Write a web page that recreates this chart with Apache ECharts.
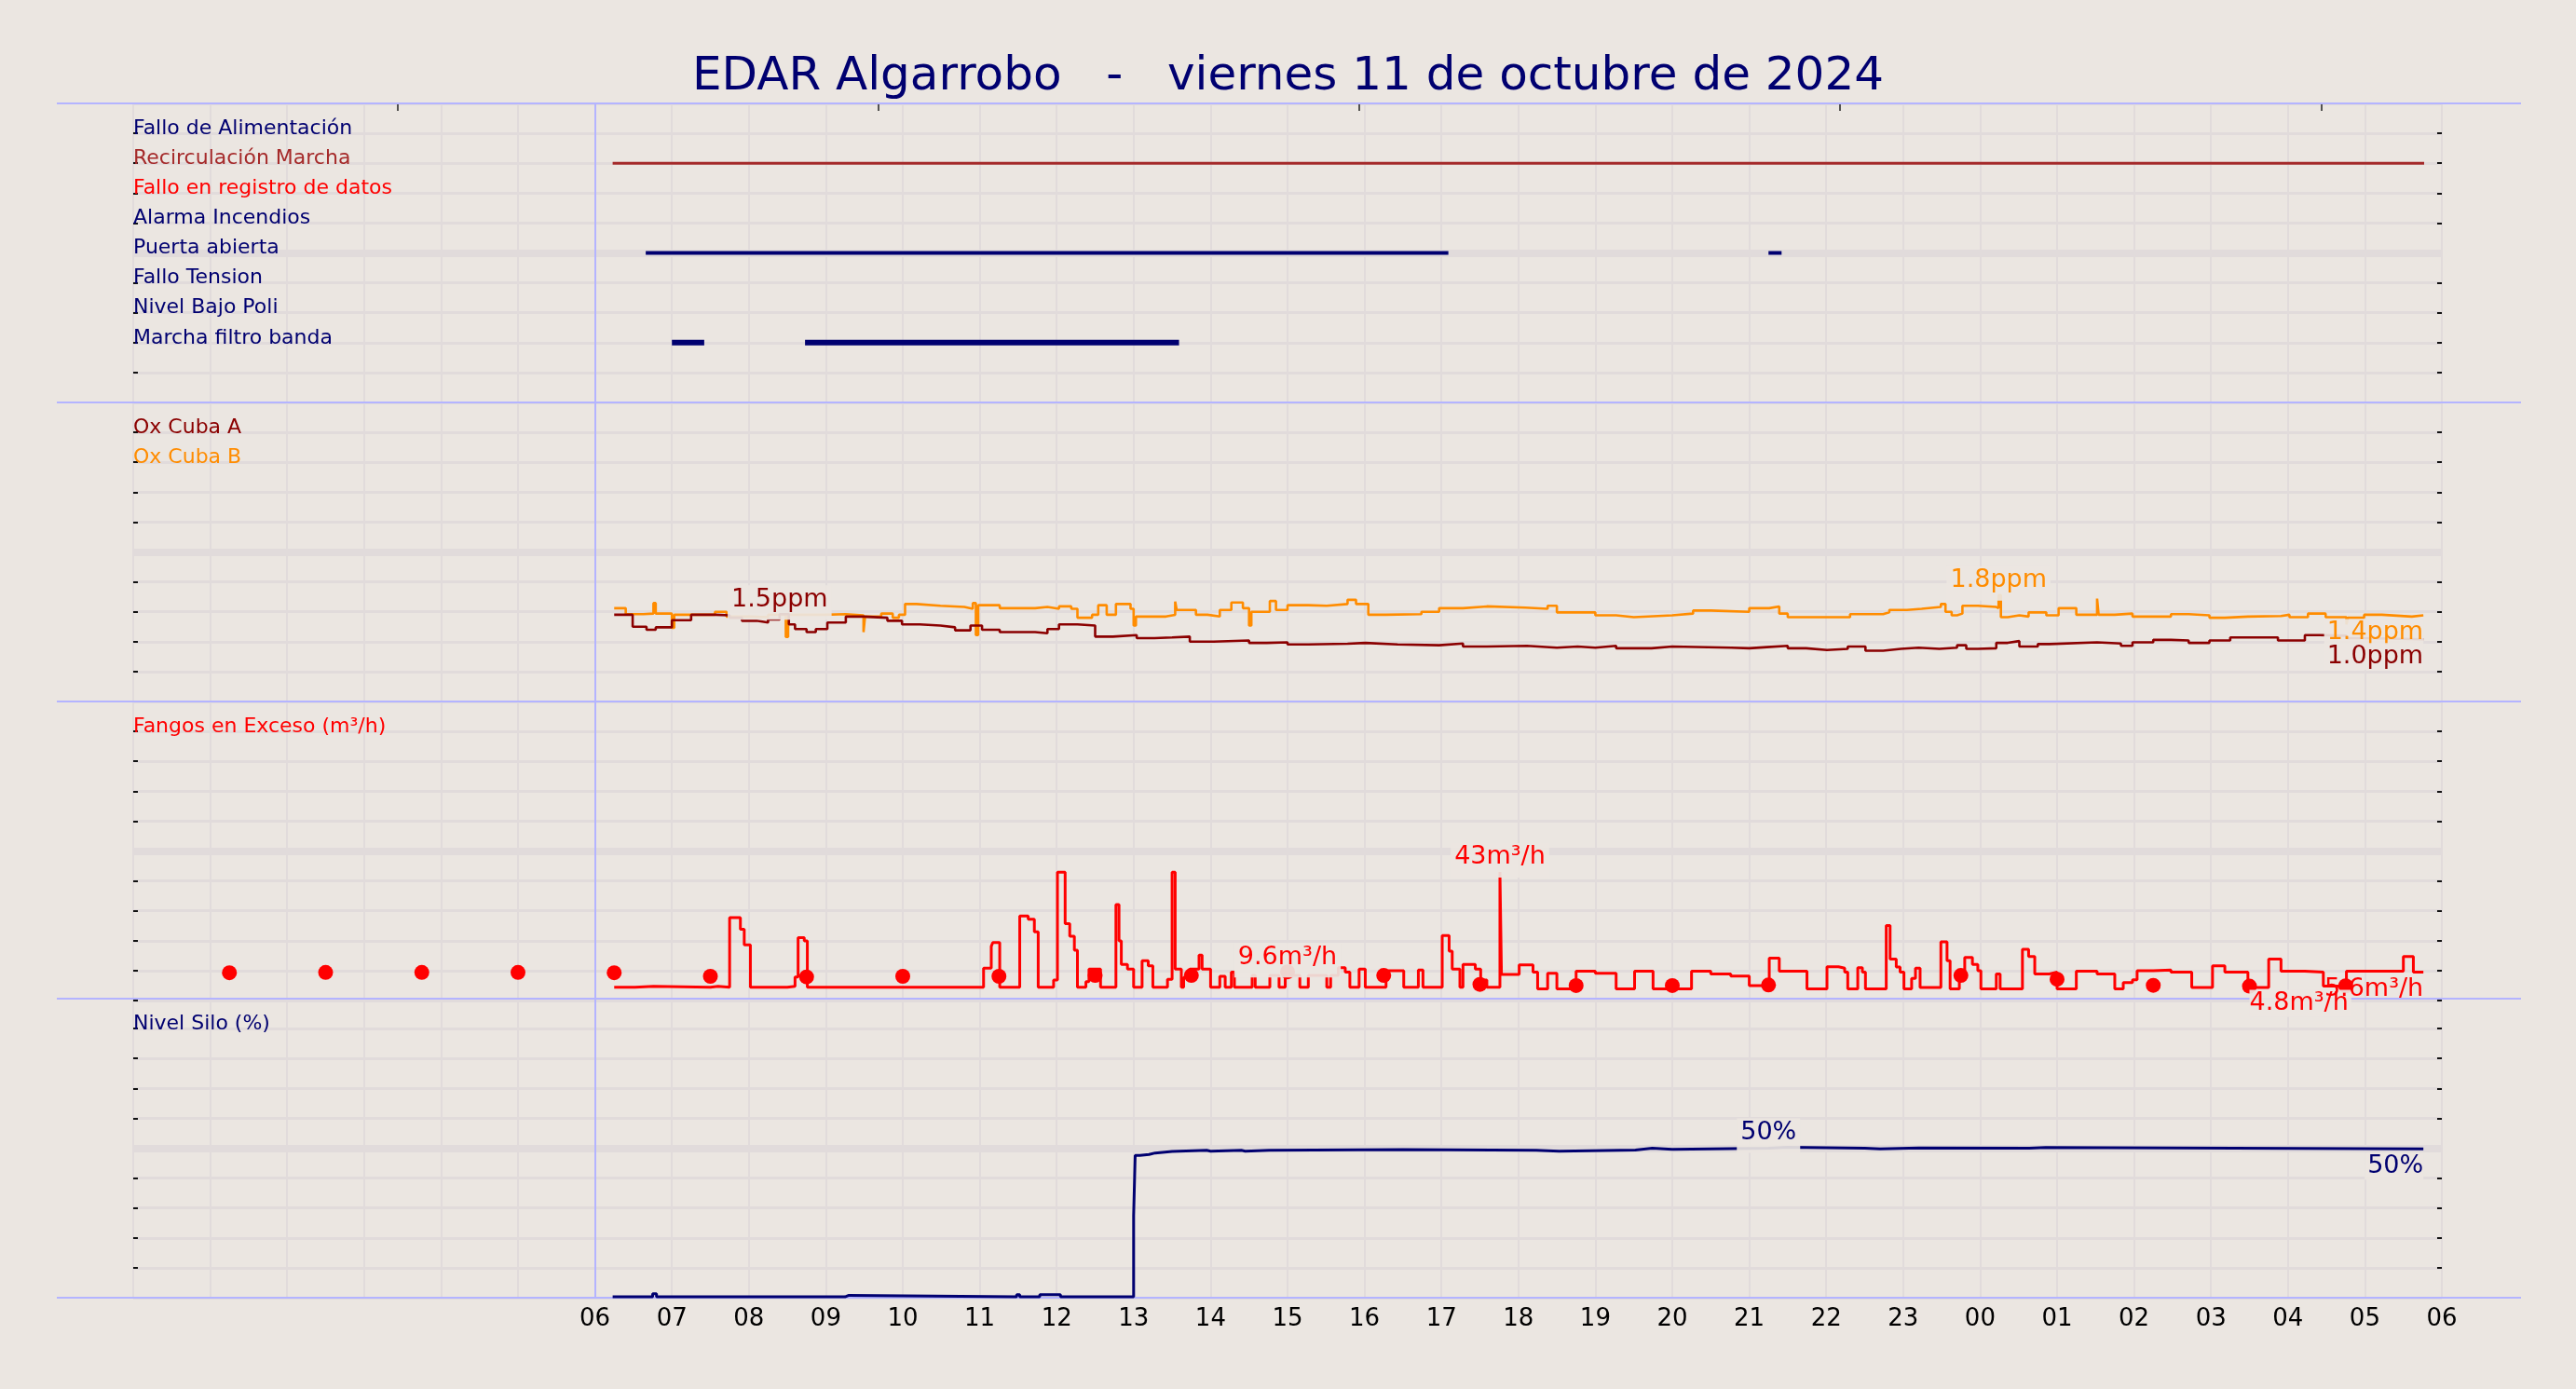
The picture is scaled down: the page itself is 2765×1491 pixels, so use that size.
<!DOCTYPE html>
<html style="height: 100%">
<head>
    <meta charset="utf-8">
    <style>
        body{margin: 0; background: #ebe6e1;}
        #container{width: 2765px; height: 1491px;}
    </style>
</head>
<body>
<div id="container"></div>

<script src="https://cdn.jsdelivr.net/npm/echarts@6/dist/echarts.min.js"></script>
<script type="text/javascript">

    // hours counted from 00:00 of the day, axis runs 0..30
    var xTickLabels = ['', '', '', '', '', '', '06', '07', '08', '09', '10', '11', '12', '13', '14', '15',
        '16', '17', '18', '19', '20', '21', '22', '23', '00', '01', '02', '03', '04', '05', '06'];
    var topTicks = [3.43, 9.68, 15.93, 22.18, 28.43];

    // panel 1 : states
    var statusNames = ['Fallo de Alimentación', 'Recirculación Marcha', 'Fallo en registro de datos', 'Alarma Incendios',
        'Puerta abierta', 'Fallo Tension', 'Nivel Bajo Poli', 'Marcha filtro banda'];
    var statusRows = [9, 8, 7, 6, 5, 4, 3, 2];
    var recircOn = [[6.23, 29.77]];
    var puertaOn = [[6.66, 17.09], [21.25, 21.42]];
    var filtroOn = [[7.0, 7.42], [8.73, 13.59]];

    // panel 2 : oxygen (ppm)
    var oxA = [[6.25, 1.45], [6.49, 1.25], [6.67, 1.20], [6.79, 1.24], [7.00, 1.36], [7.25, 1.45], [7.56, 1.44],
        [7.75, 1.40], [7.91, 1.35], [8.10, 1.32], [8.25, 1.37], [8.40, 1.46], [8.52, 1.29], [8.60, 1.21],
        [8.75, 1.16], [8.87, 1.21], [9.02, 1.32], [9.26, 1.42], [9.49, 1.40], [9.80, 1.35], [9.99, 1.29],
        [10.22, 1.27], [10.49, 1.24], [10.68, 1.19], [10.88, 1.27], [11.03, 1.20], [11.26, 1.16], [11.72, 1.14],
        [11.88, 1.21], [12.03, 1.29], [12.27, 1.27], [12.50, 1.085], [12.73, 1.11], [13.04, 1.06], [13.27, 1.07],
        [13.50, 1.085], [13.73, 1.00], [14.04, 1.02], [14.50, 0.98], [14.73, 0.99], [15.00, 0.955], [15.27, 0.965],
        [15.78, 0.98], [16.01, 0.955], [16.43, 0.94], [16.97, 0.97], [17.28, 0.92], [17.59, 0.93], [18.11, 0.90],
        [18.50, 0.92], [18.77, 0.90], [19.00, 0.93], [19.27, 0.89], [19.73, 0.92], [20.00, 0.90], [20.77, 0.89],
        [21.00, 0.91], [21.23, 0.93], [21.50, 0.89], [21.74, 0.86], [22.01, 0.88], [22.28, 0.92], [22.51, 0.85],
        [22.74, 0.88], [22.97, 0.90], [23.20, 0.88], [23.47, 0.90], [23.70, 0.94], [23.82, 0.88], [23.97, 0.89],
        [24.21, 0.98], [24.36, 1.01], [24.51, 0.92], [24.75, 0.96], [24.90, 0.99], [25.52, 0.97], [25.83, 0.93],
        [25.98, 0.99], [26.25, 1.03], [26.48, 1.02], [26.71, 0.98], [26.98, 1.02], [27.25, 1.07], [27.87, 1.02],
        [28.22, 1.11], [28.41, 1.10], [28.76, 1.06], [28.99, 1.04], [29.76, 1.04]];
    var oxB = [[6.25, 1.56], [6.40, 1.46], [6.63, 1.47], [6.76, 1.645], [6.79, 1.47], [7.00, 1.23], [7.03, 1.45],
        [7.56, 1.50], [7.71, 1.42], [8.02, 1.41], [8.25, 1.45], [8.48, 1.08], [8.51, 1.45], [8.99, 1.46],
        [9.26, 1.44], [9.49, 1.16], [9.51, 1.42], [9.72, 1.47], [9.87, 1.40], [9.95, 1.45], [10.03, 1.63],
        [10.18, 1.60], [10.49, 1.58], [10.80, 1.55], [10.91, 1.645], [10.95, 1.11], [10.98, 1.61], [11.26, 1.56],
        [11.72, 1.58], [11.88, 1.55], [12.03, 1.59], [12.19, 1.55], [12.27, 1.40], [12.46, 1.45], [12.54, 1.61],
        [12.65, 1.45], [12.77, 1.63], [12.96, 1.55], [13.00, 1.27], [13.03, 1.42], [13.11, 1.42], [13.42, 1.45],
        [13.54, 1.67], [13.56, 1.53], [13.81, 1.45], [13.96, 1.42], [14.12, 1.53], [14.27, 1.655], [14.42, 1.56],
        [14.50, 1.27], [14.53, 1.50], [14.77, 1.68], [14.85, 1.53], [15.00, 1.61], [15.27, 1.60], [15.51, 1.63],
        [15.78, 1.70], [15.89, 1.63], [16.05, 1.45], [16.28, 1.46], [16.74, 1.50], [16.97, 1.56], [17.28, 1.59],
        [17.59, 1.57], [18.09, 1.55], [18.38, 1.60], [18.50, 1.49], [19.00, 1.44], [19.27, 1.41], [19.50, 1.44],
        [20.00, 1.47], [20.27, 1.52], [20.50, 1.50], [21.00, 1.56], [21.26, 1.59], [21.39, 1.47], [21.50, 1.41],
        [22.31, 1.46], [22.74, 1.49], [22.82, 1.53], [23.05, 1.55], [23.24, 1.58], [23.49, 1.63], [23.55, 1.50],
        [23.63, 1.44], [23.70, 1.47], [23.77, 1.60], [23.97, 1.58], [24.21, 1.56], [24.24, 1.78], [24.27, 1.41],
        [24.36, 1.44], [24.51, 1.42], [24.63, 1.49], [24.86, 1.44], [25.02, 1.56], [25.25, 1.45], [25.52, 1.72],
        [25.54, 1.45], [25.75, 1.47], [25.98, 1.42], [26.48, 1.46], [26.71, 1.44], [26.98, 1.40], [27.18, 1.42],
        [27.48, 1.43], [27.91, 1.45], [28.02, 1.41], [28.26, 1.47], [28.49, 1.41], [28.76, 1.29], [28.78, 1.40],
        [28.99, 1.45], [29.22, 1.42], [29.61, 1.44], [29.76, 1.44]];

    // panel 3 : excess sludge (m3/h)
    var fangos = [[6.25, 4.45], [6.52, 4.75], [6.76, 4.45], [7.50, 4.75], [7.60, 4.45], [7.75, 27.7], [7.89, 23.8],
        [7.94, 18.6], [8.02, 4.45], [8.50, 4.75], [8.60, 7.9], [8.64, 21.0], [8.72, 19.9], [8.76, 4.45],
        [11.05, 10.8], [11.15, 18.1], [11.17, 19.4], [11.26, 4.45], [11.52, 28.3], [11.63, 27.2], [11.71, 23.0],
        [11.76, 4.45], [11.96, 6.85], [12.01, 42.9], [12.11, 25.7], [12.17, 21.5], [12.23, 16.8], [12.27, 4.45],
        [12.38, 6.3], [12.42, 10.5], [12.57, 4.45], [12.77, 32.1], [12.81, 19.9], [12.84, 12.1], [12.92, 10.5],
        [13.00, 4.45], [13.11, 13.3], [13.19, 11.6], [13.25, 4.45], [13.44, 7.1], [13.50, 42.9], [13.54, 10.5],
        [13.62, 4.45], [13.65, 7.7], [13.73, 10.5], [13.85, 15.2], [13.89, 10.5], [14.00, 4.45], [14.12, 8.1],
        [14.19, 4.45], [14.27, 9.5], [14.31, 4.45], [14.54, 8.4], [14.58, 4.45], [14.77, 8.4], [14.89, 4.45],
        [14.97, 8.4], [15.16, 4.45], [15.27, 8.4], [15.51, 4.45], [15.56, 8.4], [15.66, 11.0], [15.75, 9.5],
        [15.81, 4.45], [15.93, 10.5], [16.01, 4.45], [16.28, 10.0], [16.51, 4.45], [16.70, 10.2], [16.76, 4.45],
        [17.01, 21.7], [17.10, 16.5], [17.14, 10.5], [17.24, 4.45], [17.28, 12.1], [17.44, 10.5], [17.51, 6.85],
        [17.59, 4.45], [17.76, 43.0], [17.78, 8.7], [18.01, 11.9], [18.19, 9.5], [18.25, 3.9], [18.38, 9.1],
        [18.50, 3.9], [18.75, 9.8], [19.00, 9.1], [19.27, 3.9], [19.51, 9.8], [19.75, 3.9], [20.25, 9.8],
        [20.50, 8.9], [20.76, 8.2], [21.00, 5.0], [21.26, 14.2], [21.39, 9.8], [21.75, 3.9], [22.01, 11.3],
        [22.16, 10.8], [22.24, 9.5], [22.28, 3.9], [22.41, 11.0], [22.47, 9.5], [22.51, 3.9], [22.78, 25.1],
        [22.83, 13.9], [22.91, 11.2], [22.96, 9.5], [23.01, 3.9], [23.11, 7.4], [23.16, 10.8], [23.22, 4.4],
        [23.49, 19.6], [23.57, 13.3], [23.61, 3.9], [23.73, 7.1], [23.80, 14.4], [23.90, 12.1], [23.97, 10.0],
        [24.01, 3.9], [24.21, 8.9], [24.26, 3.9], [24.55, 17.1], [24.63, 14.7], [24.71, 8.9], [24.90, 9.5],
        [25.00, 3.9], [25.25, 9.8], [25.52, 8.9], [25.75, 3.9], [25.86, 6.0], [25.98, 6.9], [26.04, 10.0],
        [26.25, 10.2], [26.48, 9.5], [26.75, 4.4], [27.02, 11.6], [27.18, 9.5], [27.48, 4.4], [27.75, 13.9],
        [27.91, 9.8], [28.22, 9.5], [28.46, 4.8], [28.76, 9.8], [29.50, 14.7], [29.63, 9.5], [29.76, 9.5]];
    var fangosDots = [[1.25, 9.3], [2.5, 9.4], [3.75, 9.4], [5.0, 9.4], [6.25, 9.3], [7.5, 8.1], [8.75, 7.9],
        [10.0, 8.1], [11.25, 8.1], [12.5, 8.4], [13.75, 8.4], [15.0, 9.6], [16.25, 8.4], [17.5, 5.4], [18.75, 5.0],
        [20.0, 5.0], [21.25, 5.2], [23.75, 8.4], [25.0, 7.1], [26.25, 5.1], [27.5, 4.8], [28.75, 4.9]];
    var fangosEnd = [29.76, 5.6];

    // panel 4 : silo level (%)
    var silo = [[6.23, 0.3], [6.75, 1.3], [6.80, 0.3], [9.25, 0.8], [9.30, 0.3], [11.48, 1.0], [11.52, 0.3],
        [11.78, 1.0], [12.05, 0.3], [13.00, 27.4], [13.02, 47.6], [13.08, 47.9], [13.20, 48.4], [13.28, 48.9],
        [13.50, 49.3], [13.95, 49.0], [14.00, 49.3], [14.40, 49.0], [14.45, 49.3], [14.76, 49.5], [16.5, 49.3],
        [18.23, 49.0], [18.53, 49.4], [19.52, 50.0], [19.74, 49.6], [20.00, 50.0], [21.25, 50.3], [21.50, 50.0],
        [22.50, 49.8], [22.70, 50.1], [23.20, 50.0], [24.64, 50.2], [24.85, 49.8], [29.76, 49.8]];


    var BG = '#ebe6e1', GRIDC = '#e1dbdb', SEP = '#b4b4ff', NAVY = '#000070';
    var FONT = 'DejaVu Sans';
    var gridTop = [111, 432, 753, 1072];
    var gridH = 321;
    var panelMax = [10, 5, 100, 100];
    var panelStep = [1, 0.5, 10, 10];

    function segments(list, row) {
        var out = [];
        list.forEach(function (s, i) {
            if (i > 0) out.push([s[0], '-']);
            out.push([s[0], row], [s[1], row]);
        });
        return out;
    }
    function maxItem(arr) {
        var m = arr[0];
        arr.forEach(function (d) { if (d[1] > m[1]) m = d; });
        return m;
    }
    function minItem(arr) {
        var m = arr[0];
        arr.forEach(function (d) { if (d[1] < m[1]) m = d; });
        return m;
    }
    function lastItem(arr) { return arr[arr.length - 1]; }
    function fmtM3(v) { return (v >= 10 ? v.toFixed(0) : v.toFixed(1)) + 'm³/h'; }

    var labelBox = {
        fontFamily: FONT, fontSize: 27, backgroundColor: 'rgba(235,230,225,0.92)', padding: [1, 3, 1, 3]
    };
    function note(pt, text, color, where) {
        var lab = Object.assign({show: true, formatter: text, color: color}, labelBox);
        if (where === 'top') { lab.position = 'top'; lab.distance = -6; lab.padding = [2, 4, 8, 4]; }
        if (where === 'endBelow') { lab.position = 'bottom'; lab.align = 'right'; lab.distance = 4; lab.padding = [1, 0, 1, 3]; }
        if (where === 'belowLeft') { lab.position = 'bottom'; lab.align = 'left'; lab.distance = 4; lab.padding = [1, 3, 1, 0]; }
        if (where === 'endLeft') { lab.position = 'left'; lab.distance = 0; lab.offset = [0, 6]; lab.backgroundColor = 'transparent'; lab.padding = 0; }
        return {value: pt, label: lab};
    }
    function noteSeries(i, items) {
        return {
            type: 'scatter', xAxisIndex: i, yAxisIndex: 2 * i, symbolSize: 0, z: 10,
            silent: true, itemStyle: {opacity: 1}, data: items
        };
    }

    var grids = [], xAxes = [], yAxes = [], series = [];
    for (var i = 0; i < 4; i++) {
        grids.push({left: 143, right: 144, top: gridTop[i], height: gridH, show: false});
        xAxes.push({
            type: 'value', gridIndex: i, min: 0, max: 30, interval: 1,
            axisLine: {show: false, onZero: false}, axisTick: {show: false},
            splitLine: {show: true, lineStyle: {color: GRIDC, width: 2}},
            axisLabel: i === 3 ? {
                show: true, fontFamily: FONT, fontSize: 26, color: '#000', margin: 10,
                formatter: function (v) { return xTickLabels[Math.round(v)] || ''; }
            } : {show: false}
        });
        var yBase = {
            type: 'value', gridIndex: i, min: 0, max: panelMax[i], interval: panelStep[i],
            axisLine: {show: false, onZero: false}, axisLabel: {show: false},
            axisTick: {show: true, inside: true, length: 5, lineStyle: {color: '#111', width: 2}}
        };
        yAxes.push(Object.assign({}, yBase, {position: 'left', splitLine: {show: true, lineStyle: {color: GRIDC, width: 3}}}));
        yAxes.push(Object.assign({}, yBase, {position: 'right', splitLine: {show: false}}));
    }
    // odd ticks on top of first panel
    xAxes.push({
        type: 'value', gridIndex: 0, position: 'top', min: 0, max: 30,
        axisLine: {show: false, onZero: false}, axisLabel: {show: false}, splitLine: {show: false},
        axisTick: {show: true, inside: true, length: 8, customValues: topTicks, lineStyle: {color: '#222', width: 1.5}}
    });

    // panel titles + mid band + 06h line
    var panelLabels = [
        statusNames.map(function (n, k) {
            var c = NAVY;
            if (k === 1) c = '#a52a2a';
            if (k === 2) c = '#ff0000';
            return {value: [0, statusRows[k]], name: n, label: {color: c}};
        }),
        [{value: [0, 4.5], name: 'Ox Cuba A', label: {color: '#8b0000'}},
            {value: [0, 4.0], name: 'Ox Cuba B', label: {color: '#ff8c00'}}],
        [{value: [0, 90], name: 'Fangos en Exceso (m³/h)', label: {color: '#ff0000'}}],
        [{value: [0, 90], name: 'Nivel Silo (%)', label: {color: NAVY}}]
    ];
    for (var p = 0; p < 4; p++) {
        series.push({
            type: 'scatter', xAxisIndex: p, yAxisIndex: 2 * p, symbolSize: 0, z: 1, silent: true,
            itemStyle: {opacity: 1},
            data: panelLabels[p],
            label: {show: true, formatter: '{b}', position: 'right', distance: 0, verticalAlign: 'bottom',
                offset: [0, 6], fontFamily: FONT, fontSize: 22},
            markLine: {
                silent: true, symbol: ['none', 'none'], label: {show: false}, animation: false, z: 1,
                data: [
                    {yAxis: panelMax[p] / 2, lineStyle: {color: GRIDC, width: 8, type: 'solid'}},
                    {xAxis: 6, lineStyle: {color: SEP, width: 2, type: 'solid'}}
                ]
            }
        });
    }

    function lineSeries(i, data, color, width, step) {
        return {
            type: 'line', xAxisIndex: i, yAxisIndex: 2 * i, data: data, step: step ? 'end' : false,
            showSymbol: false, connectNulls: false, z: 3, silent: true,
            lineStyle: {color: color, width: width}
        };
    }

    // panel 1
    series.push(lineSeries(0, segments(recircOn, statusRows[1]), '#a52a2a', 3, false));
    series.push(lineSeries(0, segments(puertaOn, statusRows[4]), NAVY, 4, false));
    series.push(lineSeries(0, segments(filtroOn, statusRows[7]), NAVY, 6, false));

    // panel 2
    series.push(lineSeries(1, oxB, '#ff8c00', 2.6, true));
    series.push(lineSeries(1, oxA, '#8b0000', 2.6, true));
    var aMax = maxItem(oxA), bMax = maxItem(oxB), aEnd = lastItem(oxA), bEnd = lastItem(oxB);
    series.push(noteSeries(1, [
        note(aMax, aMax[1].toFixed(1) + 'ppm', '#8b0000', 'top'),
        note(bMax, bMax[1].toFixed(1) + 'ppm', '#ff8c00', 'top'),
        note(bEnd, bEnd[1].toFixed(1) + 'ppm', '#ff8c00', 'endBelow'),
        note(aEnd, aEnd[1].toFixed(1) + 'ppm', '#8b0000', 'endBelow')
    ]));

    // panel 3
    series.push(lineSeries(2, fangos, '#ff0000', 3, true));
    series.push({
        type: 'scatter', xAxisIndex: 2, yAxisIndex: 4, data: fangosDots, symbolSize: 16, z: 4, silent: true,
        itemStyle: {color: '#ff0000', opacity: 1}
    });
    var fMax = maxItem(fangos), dMax = maxItem(fangosDots), dMin = minItem(fangosDots);
    series.push(noteSeries(2, [
        note(fMax, fmtM3(fMax[1]), '#ff0000', 'top'),
        note(dMax, fmtM3(dMax[1]), '#ff0000', 'top'),
        note(dMin, fmtM3(dMin[1]), '#ff0000', 'belowLeft'),
        note(fangosEnd, fmtM3(fangosEnd[1]), '#ff0000', 'endLeft')
    ]));

    // panel 4
    series.push(lineSeries(3, silo, NAVY, 3, true));
    var sMax = maxItem(silo), sEnd = lastItem(silo);
    series.push(noteSeries(3, [
        note(sMax, Math.round(sMax[1]) + '%', NAVY, 'top'),
        note(sEnd, Math.round(sEnd[1]) + '%', NAVY, 'endBelow')
    ]));

    // panel separators
    var sepLines = gridTop.concat([gridTop[3] + gridH]).map(function (y) {
        return {type: 'line', z: 1, silent: true, shape: {x1: 61, y1: y, x2: 2706, y2: y},
            style: {stroke: SEP, lineWidth: 2}};
    });

    var myChart = echarts.init(document.getElementById('container'));
    var option = {
        backgroundColor: BG,
        animation: false,
        title: {
            text: 'EDAR Algarrobo   -   viernes 11 de octubre de 2024',
            left: 'center', top: 53,
            textStyle: {fontFamily: FONT, fontSize: 50, fontWeight: 'normal', color: NAVY}
        },
        textStyle: {fontFamily: FONT},
        grid: grids,
        xAxis: xAxes,
        yAxis: yAxes,
        graphic: sepLines,
        series: series
    };
    myChart.setOption(option);
</script>
</body>
</html>
